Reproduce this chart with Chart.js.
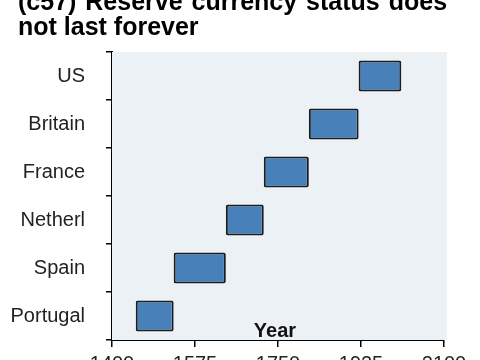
<!DOCTYPE html>
<html>
<head>
<meta charset="utf-8">
<script src="https://cdn.jsdelivr.net/npm/chart.js@4.4.0/dist/chart.umd.min.js"></script>
<style>
  html, body { margin: 0; padding: 0; background: #fff; overflow: hidden; }
  #wrap { position: absolute; left: 0; top: -18px; width: 480px; height: 400px; }
</style>
</head>
<body>
<div id="wrap"><canvas id="myChart"></canvas></div>
<script>
//* categories from bottom to top
const countries = ['Portugal', 'Spain', 'Netherl', 'France', 'Britain', 'US'];
//* start and end year of each reserve currency period
const startYears = [1450, 1530, 1640, 1720, 1815, 1920];
const endYears = [1530, 1640, 1720, 1815, 1920, 2010];
const xTicks = [1400, 1575, 1750, 1925, 2100];

const titleLines = ['(c57) Reserve currency status does', 'not last forever'];
const xTitle = 'Year';

//* floating bars need [start, end] pairs
const ranges = startYears.map((s, i) => [s, endYears[i]]);

//! plot background, the title (indented like the original) and the "Year" label inside the plot
const plotExtras = {
  id: 'plotExtras',
  beforeDatasetsDraw(chart) {
    const {ctx, chartArea: a} = chart;
    ctx.save();
    ctx.fillStyle = '#ebf1f5';
    ctx.fillRect(a.left, a.top, a.right - a.left + 3, a.bottom - a.top);
    ctx.restore();
  },
  afterDraw(chart) {
    const {ctx, chartArea: a} = chart;
    ctx.save();
    ctx.fillStyle = '#000';
    ctx.textAlign = 'left';
    ctx.textBaseline = 'alphabetic';
    ctx.font = 'bold 25px "Liberation Sans", Arial, sans-serif';
    ctx.wordSpacing = '2px';
    ctx.fillText(titleLines[0], 18, 28);
    ctx.wordSpacing = '0px';
    ctx.fillText(titleLines[1], 18, 53);

    ctx.font = 'bold 20px "Liberation Sans", Arial, sans-serif';
    ctx.fillStyle = '#111';
    ctx.textAlign = 'center';
    ctx.fillText(xTitle, (a.left + a.right) / 2 - 3, a.bottom - 3);
    ctx.restore();
  }
};

const labelFont = {family: '"Liberation Sans", Arial, sans-serif', size: 20};

const config = {
  type: 'bar',
  data: {
    labels: countries,
    datasets: [{
      data: ranges,
      backgroundColor: '#4881ba',
      borderColor: '#1c1c1c',
      borderWidth: 2,
      borderRadius: 2,
      borderSkipped: false,
      barPercentage: 0.65,
      categoryPercentage: 1
    }]
  },
  options: {
    indexAxis: 'y',
    responsive: true,
    maintainAspectRatio: false,
    animation: false,
    layout: {padding: {left: 0, right: 36, top: 70, bottom: 0}},
    plugins: {
      legend: {display: false},
      tooltip: {enabled: false},
      title: {display: false}
    },
    scales: {
      x: {
        type: 'linear',
        min: 1400,
        max: 2100,
        afterBuildTicks: (scale) => { scale.ticks = xTicks.map(v => ({value: v})); },
        afterFit: (scale) => { scale.height = 42; },
        border: {display: true, color: '#000', width: 2},
        grid: {display: true, drawOnChartArea: false, drawTicks: true, tickLength: 7, color: '#000', lineWidth: 1.5},
        ticks: {
          color: '#222', font: labelFont, padding: 5, maxRotation: 0, autoSkip: false,
          callback: (v) => String(v) //* no thousands comma
        }
      },
      y: {
        reverse: true,
        afterFit: (scale) => { scale.width = 112; },
        border: {display: true, color: '#000', width: 2},
        grid: {display: true, offset: true, drawOnChartArea: false, drawTicks: true, tickLength: 6, color: '#000', lineWidth: 1.5},
        ticks: {color: '#222', font: labelFont, padding: 21}
      }
    }
  },
  plugins: [plotExtras]
};

const nChart = new Chart(document.getElementById('myChart'), config);
</script>
</body>
</html>
